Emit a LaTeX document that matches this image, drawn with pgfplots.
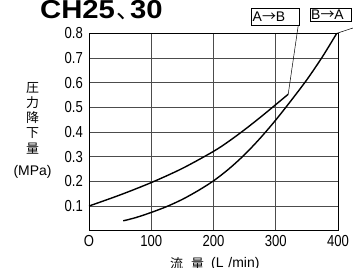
\documentclass[border=0pt]{standalone}
\usepackage{fontspec}
\setmainfont{Liberation Sans}
\newfontfamily\narrowsans[FakeStretch=0.82]{Liberation Sans}
\newfontfamily\titlefont[FakeStretch=1.13]{Liberation Sans Bold}
\newfontfamily\cjk{Noto Sans CJK JP}
\usepackage{pgfplots}
\pgfplotsset{compat=1.18}
\pgfplotstableread{
x y
0 0.100
50 0.145
100 0.195
150 0.2525
200 0.3215
225 0.363
250 0.4095
275 0.459
300 0.511
320 0.553
}\ABdata
\pgfplotstableread{
x y
55 0.040
75 0.053
100 0.074
125 0.098
150 0.127
175 0.162
200 0.202
225 0.251
250 0.3085
275 0.375
300 0.4486
325 0.5286
350 0.612
375 0.705
398 0.800
}\BAdata
\begin{document}
\begin{tikzpicture}
\useasboundingbox (0,0) rectangle (353bp,268bp);
\begin{axis}[at={(89bp,37.3bp)}, anchor=south west, scale only axis,
  width=249bp, height=197.4bp,
  xmin=0, xmax=400, ymin=0, ymax=0.8,
  xtick={0,100,200,300,400}, xticklabels={O,100,200,300,400},
  ytick={0.1,0.2,0.3,0.4,0.5,0.6,0.7,0.8},
  yticklabels={0.1,0.2,0.3,0.4,0.5,0.6,0.7,0.8},
  major tick length=0pt,
  grid=major, grid style={black!70, line width=0.8bp},
  axis line style={black, line width=1bp},
  ticklabel style={font=\fontsize{16}{16}\selectfont\narrowsans},
  xticklabel style={inner sep=0pt, anchor=north, yshift=-4.3bp},
  yticklabel style={inner sep=0pt, anchor=east, xshift=-6bp},
  clip=false]
\addplot[black, line width=1.4bp, smooth] table[x=x,y=y] {\ABdata};
\addplot[black, line width=1.4bp, smooth] table[x=x,y=y] {\BAdata};
\coordinate (ABend) at (axis cs:320,0.553);
\coordinate (BAend) at (axis cs:398,0.800);
\end{axis}
% title
\node[anchor=base west, inner sep=0pt, font=\fontsize{26}{26}\selectfont\titlefont] at (40bp,249.7bp) {CH25};
\node[anchor=base west, inner sep=0pt, font=\fontsize{24}{24}\selectfont\cjk] at (116bp,249.7bp) {、};
\node[anchor=base west, inner sep=0pt, font=\fontsize{26}{26}\selectfont\titlefont] at (130bp,249.7bp) {30};
% y label
\foreach \c/\yy in {圧/88.3, 力/103, 降/117.5, 下/133, 量/148.3}{
  \node[inner sep=0pt, font=\fontsize{13}{13}\selectfont\cjk] at (32.5bp,{268bp-\yy bp}) {\c};
}
\node[inner sep=0pt, font=\fontsize{14}{14}\selectfont] at (32.5bp,{268bp-171.7bp}) {(MPa)};
% x label
\node[inner sep=0pt, font=\fontsize{13}{13}\selectfont\cjk] at (176.5bp,{268bp-264bp}) {流};
\node[inner sep=0pt, font=\fontsize{13}{13}\selectfont\cjk] at (197.5bp,{268bp-264bp}) {量};
\node[inner sep=0pt, anchor=west, font=\fontsize{14}{14}\selectfont] at (211bp,{268bp-264bp}) {(L\hspace{0.35em}/min)};
% legend boxes
\draw[line width=0.6bp] (251.7bp,243bp) rectangle (299.3bp,259.7bp);
\node[anchor=west, inner sep=0pt, font=\fontsize{14}{14}\selectfont] at (252.5bp,251.3bp) {A{\cjk →}B};
\draw[line width=0.6bp] (310.7bp,246.3bp) rectangle (351.7bp,259.7bp);
\node[anchor=west, inner sep=0pt, font=\fontsize{14}{14}\selectfont] at (311bp,253bp) {B{\cjk →}A};
% leader lines
\draw[line width=0.5bp] (ABend) -- (298.3bp,243bp);
\draw[line width=0.5bp] (BAend) -- (353bp,240bp);
\end{tikzpicture}
\end{document}
